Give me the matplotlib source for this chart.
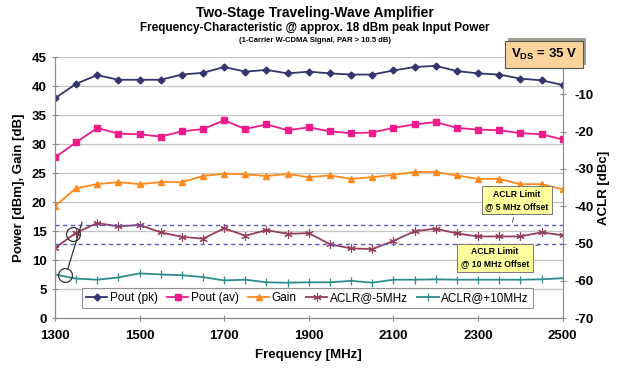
import numpy as np
import matplotlib
matplotlib.use("Agg")
import matplotlib.pyplot as plt
import matplotlib.patheffects as pe

plt.rcParams['font.family'] = ['Liberation Sans', 'DejaVu Sans']
plt.rcParams['axes.unicode_minus'] = False

# frequency points [MHz]
freq = list(range(1300, 2501, 50))

# left axis: power [dBm] / gain [dB]
pout_pk = [37.9, 40.4, 41.9, 41.1, 41.1, 41.1, 42.0, 42.3, 43.3, 42.5, 42.8, 42.2, 42.5,
           42.2, 42.0, 42.0, 42.7, 43.3, 43.5, 42.6, 42.2, 42.0, 41.3, 41.0, 40.2]
pout_av = [27.7, 30.3, 32.8, 31.8, 31.7, 31.3, 32.2, 32.6, 34.1, 32.6, 33.4, 32.4, 32.9,
           32.2, 31.9, 32.0, 32.8, 33.4, 33.8, 32.8, 32.5, 32.4, 31.9, 31.7, 30.8]
gain = [19.3, 22.4, 23.1, 23.45, 23.1, 23.45, 23.45, 24.5, 24.9, 24.8, 24.5, 24.85, 24.3,
        24.6, 24.0, 24.3, 24.7, 25.2, 25.2, 24.6, 24.0, 24.0, 23.1, 23.1, 22.2]

# right axis: ACLR [dBc]
aclr_m5 = [-51.2, -47.1, -44.5, -45.4, -45.0, -47.0, -48.2, -48.7, -45.9, -47.9, -46.4, -47.4, -47.2,
           -50.2, -51.3, -51.5, -49.3, -46.7, -46.0, -47.3, -48.1, -48.1, -48.1, -47.0, -47.8]
aclr_p10 = [-58.3, -59.4, -59.7, -59.1, -58.0, -58.3, -58.5, -59.0, -59.9, -59.7, -60.4, -60.5, -60.4,
            -60.4, -60.0, -60.5, -59.7, -59.7, -59.6, -59.7, -59.7, -59.7, -59.7, -59.6, -59.3]
aclr_limits = [-45, -50]

fig = plt.figure(figsize=(6.17, 3.76), dpi=100)
ax = fig.add_axes([0.089, 0.154, 0.823, 0.694])
ax2 = ax.twinx()

ax.plot(freq, pout_pk, color='#34346e', marker='D', ms=3.5, lw=1.3, label='Pout (pk)')
ax.plot(freq, pout_av, color='#ee1b8c', marker='s', ms=5, lw=1.3, label='Pout (av)')
ax.plot(freq, gain, color='#ff8a1c', marker='^', ms=5, lw=1.3, label='Gain')
ax2.plot(freq, aclr_m5, color='#96405f', marker=(6, 2, 0), ms=6, mew=0.8, lw=1.3, label='ACLR@-5MHz')
ax2.plot(freq, aclr_p10, color='#2f8c8c', marker='|', ms=6, mew=0.9, lw=1.3, label='ACLR@+10MHz')
for lim in aclr_limits:
    ax2.axhline(lim, color='#5858c8', ls=(0, (3, 2.5)), lw=1.0)

ax.set_xlim(1300, 2500)
ax.set_ylim(0, 45)
ax2.set_ylim(-70, 0)
ax.set_xticks(range(1300, 2501, 200))
ax.set_yticks(range(0, 46, 5))
ax2.set_yticks(range(-70, -9, 10))
ax.yaxis.grid(True, color='#c4c4c4', lw=0.9)
ax.set_axisbelow(True)

for a in (ax, ax2):
    a.spines['top'].set_visible(False)
    for s in ('left', 'right', 'bottom'):
        a.spines[s].set_color('#8c8c8c')
    a.tick_params(direction='inout', length=5, color='#8c8c8c', labelsize=9.5)
    for lbl in a.get_xticklabels() + a.get_yticklabels():
        lbl.set_fontweight('bold')
ax.tick_params(axis='x', pad=6)
ax2.tick_params(axis='y', pad=6)

ax.set_xlabel('Frequency [MHz]', fontsize=9.5, fontweight='bold', labelpad=5)
ax.set_ylabel('Power [dBm], Gain [dB]', fontsize=9.5, fontweight='bold', labelpad=5)
ax2.set_ylabel('ACLR [dBc]', fontsize=9.5, fontweight='bold', labelpad=3)

fig.text(0.51, 0.965, 'Two-Stage Traveling-Wave Amplifier', ha='center', va='center',
         fontsize=10, fontweight='bold')
fig.text(0.51, 0.925, 'Frequency-Characteristic @ approx. 18 dBm peak Input Power', ha='center',
         va='center', fontsize=8.5, fontweight='bold')
fig.text(0.51, 0.892, '(1-Carrier W-CDMA Signal, PAR > 10.5 dB)', ha='center', va='center',
         fontsize=5.5, fontweight='bold')

vds = fig.text(0.882, 0.855, r'V$_\mathregular{DS}$ = 35 V', ha='center', va='center',
               fontsize=9.5, fontweight='bold',
               bbox=dict(boxstyle='square,pad=0.45', fc='#fbd49c', ec='#555555', lw=0.8))
vds.get_bbox_patch().set_path_effects([pe.withSimplePatchShadow(offset=(2, 2), alpha=0.5)])

# callouts for ACLR limits
box = dict(boxstyle='square,pad=0.4', fc='#ffff9e', ec='#777777', lw=0.7)
ax2.annotate('ACLR Limit\n@ 5 MHz Offset', xy=(2380, -45), xytext=(2392, -38.4),
             ha='center', va='center', fontsize=6.2, fontweight='bold', bbox=box,
             linespacing=1.5, arrowprops=dict(arrowstyle='-', color='#555555', lw=0.7))
ax2.annotate('ACLR Limit\n@ 10 MHz Offset', xy=(2453, -50), xytext=(2340, -53.8),
             ha='center', va='center', fontsize=6.2, fontweight='bold', bbox=box,
             linespacing=1.5, arrowprops=dict(arrowstyle='-', color='#555555', lw=0.7))

# circles marking which axis the ACLR traces belong to
ax2.plot([1342.5, 1323.6], [-47.4, -58.5], ls='none', marker='o', ms=10, mfc='none',
         mec='#333333', mew=0.9)
ax2.plot([1364, 1331], [-44.3, -56.6], color='#333333', lw=0.9)

h1, l1 = ax.get_legend_handles_labels()
h2, l2 = ax2.get_legend_handles_labels()
leg = ax2.legend(h1 + h2, l1 + l2, loc='lower center', bbox_to_anchor=(0.497, 0.015), ncol=5,
                 fontsize=8.5, frameon=True, fancybox=False, edgecolor='#777777',
                 handlelength=1.8, handletextpad=0.2, columnspacing=0.8, borderpad=0.35)
leg.get_frame().set_linewidth(0.8)

fig.savefig('out.png', dpi=100)
